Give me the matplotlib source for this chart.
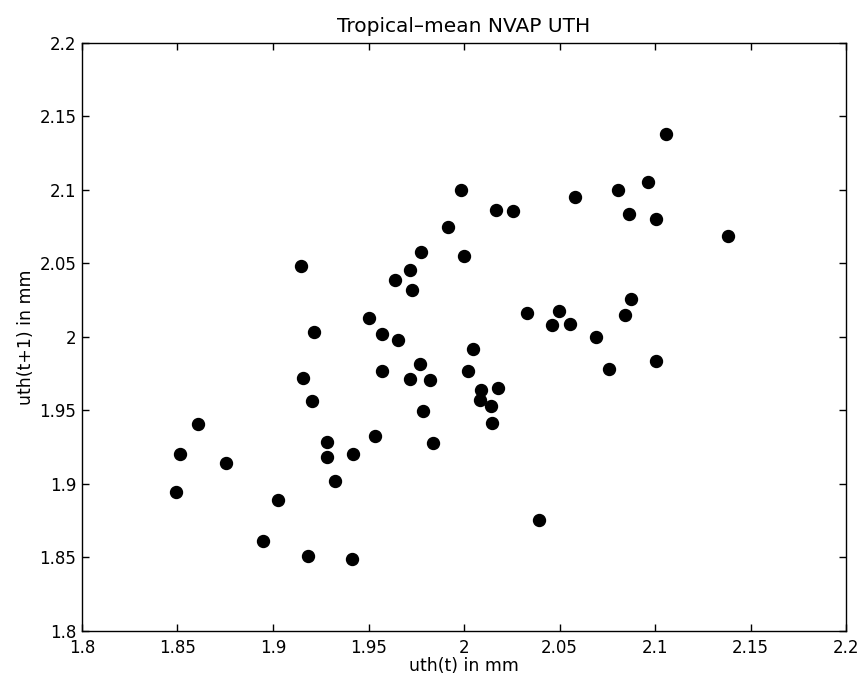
import matplotlib
matplotlib.use('Agg')
import matplotlib.pyplot as plt

# datos: uth(t) contra uth(t+1)
uth_t = [2.1059, 2.0962, 2.0805, 2.0583, 2.0862, 2.1007, 2.1381, 1.9984, 2.0169, 2.0258,
         1.9916, 2.0002, 1.9775, 1.9717, 1.9639, 1.9726, 2.0328, 2.0496, 2.0462, 2.0557,
         2.0873, 2.0845, 1.9145, 1.9501, 1.9215, 1.9573, 1.9571, 1.9156, 1.9203, 1.8609,
         1.9532, 1.9281, 1.8513, 1.9284, 1.9417, 1.8754, 1.9326, 1.8491, 1.9025, 1.8948,
         1.9185, 1.9412, 1.9656, 2.0046, 1.9771, 2.0023, 1.9716, 1.9820, 2.0091, 2.0180,
         2.0084, 2.0140, 1.9784, 2.0148, 1.9836, 2.0691, 2.0761, 2.1007, 2.0394]
uth_t1 = [2.1379, 2.1056, 2.1000, 2.0954, 2.0839, 2.0803, 2.0685, 2.1000, 2.0862, 2.0857,
          2.0750, 2.0549, 2.0576, 2.0454, 2.0388, 2.0318, 2.0165, 2.0177, 2.0084, 2.0088,
          2.0259, 2.0148, 2.0481, 2.0129, 2.0032, 2.0020, 1.9769, 1.9719, 1.9565, 1.9408,
          1.9327, 1.9284, 1.9206, 1.9186, 1.9202, 1.9141, 1.9022, 1.8946, 1.8889, 1.8610,
          1.8512, 1.8490, 1.9980, 1.9916, 1.9814, 1.9771, 1.9716, 1.9710, 1.9637, 1.9651,
          1.9571, 1.9533, 1.9499, 1.9415, 1.9281, 2.0000, 1.9784, 1.9839, 1.8757]

ticks = [1.8, 1.85, 1.9, 1.95, 2, 2.05, 2.1, 2.15, 2.2]
tick_labels = ['1.8', '1.85', '1.9', '1.95', '2', '2.05', '2.1', '2.15', '2.2']

plt.rcParams['font.family'] = ['DejaVu Sans']
plt.rcParams['font.size'] = 12

fig = plt.figure(figsize=(8.64, 6.79), dpi=100)
ax = fig.add_axes([0.0949, 0.0707, 0.8843, 0.866])

ax.plot(uth_t, uth_t1, 'o', color='black', markersize=8.6, linestyle='none')

ax.set_xlim(1.8, 2.2)
ax.set_ylim(1.8, 2.2)
ax.set_xticks(ticks)
ax.set_xticklabels(tick_labels)
ax.set_yticks(ticks)
ax.set_yticklabels(tick_labels)
ax.tick_params(direction='in', top=True, right=True, length=5, width=1)
ax.tick_params(axis='x', pad=6)
ax.tick_params(axis='y', pad=4)
for s in ax.spines.values():
    s.set_linewidth(1)

ax.set_title('Tropical\u2013mean NVAP UTH', fontsize=14.5, pad=8)
ax.set_xlabel('uth(t) in mm', fontsize=12.5, labelpad=0)
ax.set_ylabel('uth(t+1) in mm', fontsize=12.5, labelpad=3)

fig.savefig('out.png', dpi=100)
